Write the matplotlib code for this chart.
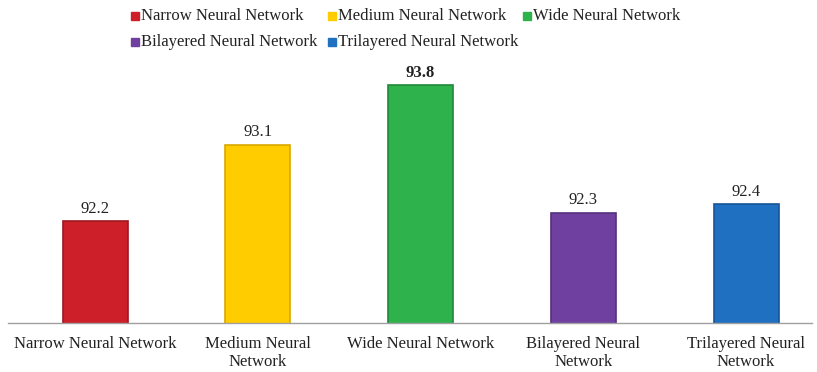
import matplotlib.pyplot as plt
from matplotlib.patches import Rectangle

# chart data
models = ["Narrow Neural Network", "Medium Neural Network", "Wide Neural Network",
          "Bilayered Neural Network", "Trilayered Neural Network"]
tick_labels = ["Narrow Neural Network", "Medium Neural\nNetwork", "Wide Neural Network",
               "Bilayered Neural\nNetwork", "Trilayered Neural\nNetwork"]
accuracy = [92.2, 93.1, 93.8, 92.3, 92.4]
colors = ["#CC1F2A", "#FFCC00", "#2DB24C", "#7040A0", "#1F70C1"]
edges = ["#9E1820", "#D9A800", "#21883A", "#55307D", "#165596"]

plt.rcParams["font.family"] = ["Liberation Serif", "DejaVu Serif"]

fig = plt.figure(figsize=(8.17, 3.72), dpi=100)
ax = fig.add_axes([8 / 817, 49 / 372, 804 / 817, 255 / 372])

x = list(range(len(models)))
bars = ax.bar(x, accuracy, width=0.4, color=colors, edgecolor=edges, linewidth=1.2)

# value labels, the best one in bold
best = max(accuracy)
for b, v in zip(bars, accuracy):
    ax.text(b.get_x() + b.get_width() / 2, v + 0.05, f"{v:.1f}", ha="center", va="bottom",
            fontsize=12, color="#222222", fontweight="bold" if v == best else "normal")

ax.set_ylim(91, 94)
ax.set_xlim(-0.535, 4.405)
ax.set_yticks([])
ax.set_xticks(x)
ax.set_xticklabels(tick_labels, fontsize=12, color="#222222", linespacing=1.25)
ax.tick_params(axis="x", length=0, pad=9)
for s in ["top", "right", "left"]:
    ax.spines[s].set_visible(False)
ax.spines["bottom"].set_color("#A0A0A0")
ax.spines["bottom"].set_linewidth(1.0)

# legend, three columns over two rows like the original
col_x = [135, 332, 527]
row_y = [16, 42]
for i, (name, c) in enumerate(zip(models, colors)):
    px, py = col_x[i % 3], row_y[i // 3]
    fig.add_artist(Rectangle(((px - 4) / 817, 1 - (py + 4) / 372), 8 / 817, 8 / 372,
                             transform=fig.transFigure, color=c))
    fig.text((px + 6) / 817, 1 - py / 372, name, fontsize=12, color="#222222",
             ha="left", va="center")

fig.savefig("out.png", dpi=100)
